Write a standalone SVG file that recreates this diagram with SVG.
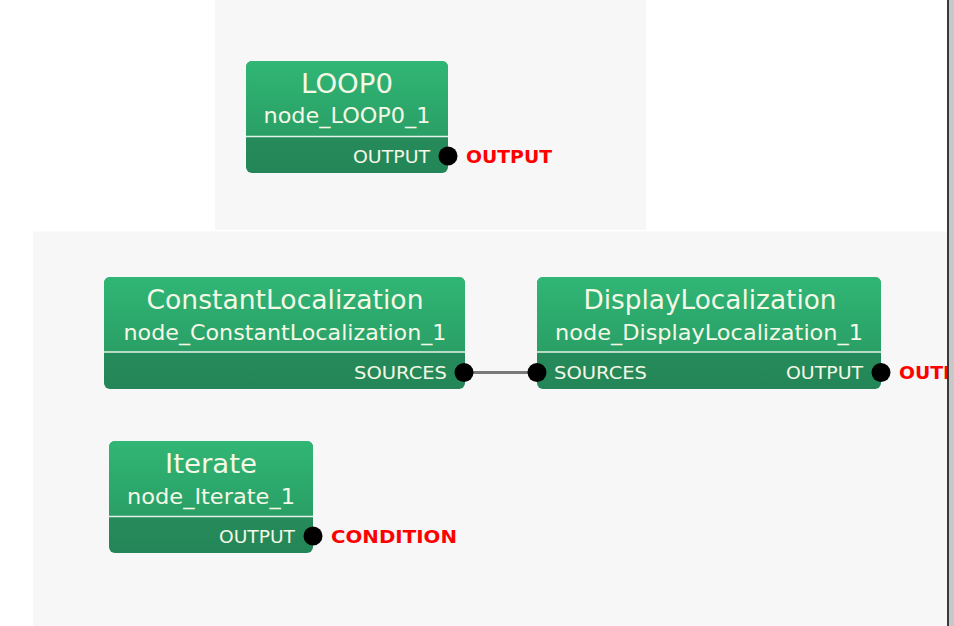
<svg xmlns="http://www.w3.org/2000/svg" width="954" height="626" viewBox="0 0 954 626">
<defs>
<linearGradient id="hdr" x1="0" y1="0" x2="0" y2="1">
<stop offset="0" stop-color="#30b675"/>
<stop offset="1" stop-color="#2a9f66"/>
</linearGradient>
<linearGradient id="ftr" x1="0" y1="0" x2="0" y2="1">
<stop offset="0" stop-color="#28945e"/>
<stop offset="1" stop-color="#248658"/>
</linearGradient>
</defs>
<style>
.panel{fill:#f7f7f7}
.title{font-family:"DejaVu Sans",Verdana,sans-serif;font-size:26px;fill:#f4f8e6;text-anchor:middle}
.sub{font-family:"DejaVu Sans",Verdana,sans-serif;font-size:21px;fill:#f4f8e6;text-anchor:middle}
.port{font-family:"DejaVu Sans",Verdana,sans-serif;font-size:18.5px;fill:#f4f8e6}
.lbl{font-family:"DejaVu Sans",Verdana,sans-serif;font-size:18.5px;font-weight:bold;fill:#ff0000}
.div{stroke:#e4f2ea;stroke-width:1.5}
.dot{fill:#000}
.edge{stroke:#7a7a7a;stroke-width:3;fill:none}
</style>
<rect x="0" y="0" width="954" height="626" fill="#ffffff"/>
<rect class="panel" x="215" y="0" width="431" height="230"/>
<rect class="panel" x="33" y="231.5" width="914" height="394.5"/>

<g id="connectors">
<line class="edge" x1="464" y1="372.5" x2="537" y2="372.5"/>
</g>

<g id="node_LOOP0_1">
<rect x="246" y="61" width="202" height="112" rx="6" fill="url(#ftr)"/>
<path d="M246,136 V67 a6,6 0 0 1 6,-6 H442 a6,6 0 0 1 6,6 V136 Z" fill="url(#hdr)"/>
<line class="div" x1="246" y1="136.5" x2="448" y2="136.5"/>
<text class="title" x="347" y="93" textLength="92" lengthAdjust="spacingAndGlyphs">LOOP0</text>
<text class="sub" x="347" y="123" textLength="167" lengthAdjust="spacingAndGlyphs">node_LOOP0_1</text>
<text class="port" x="430" y="163" text-anchor="end" textLength="77" lengthAdjust="spacingAndGlyphs">OUTPUT</text>
<circle class="dot" cx="448" cy="156" r="9.5"/>
<text class="lbl" x="466" y="163" textLength="86" lengthAdjust="spacingAndGlyphs">OUTPUT</text>
</g>

<g id="node_ConstantLocalization_1">
<rect x="104" y="277" width="361" height="112" rx="6" fill="url(#ftr)"/>
<path d="M104,352 V283 a6,6 0 0 1 6,-6 H459 a6,6 0 0 1 6,6 V352 Z" fill="url(#hdr)"/>
<line class="div" x1="104" y1="352" x2="465" y2="352"/>
<text class="title" x="285" y="309" textLength="277" lengthAdjust="spacingAndGlyphs">ConstantLocalization</text>
<text class="sub" x="285" y="340" textLength="323" lengthAdjust="spacingAndGlyphs">node_ConstantLocalization_1</text>
<text class="port" x="447" y="379" text-anchor="end" textLength="93" lengthAdjust="spacingAndGlyphs">SOURCES</text>
<circle class="dot" cx="464" cy="372.5" r="9.5"/>
</g>

<g id="node_DisplayLocalization_1">
<rect x="537" y="277" width="344" height="112" rx="6" fill="url(#ftr)"/>
<path d="M537,352 V283 a6,6 0 0 1 6,-6 H875 a6,6 0 0 1 6,6 V352 Z" fill="url(#hdr)"/>
<line class="div" x1="537" y1="352" x2="881" y2="352"/>
<text class="title" x="710" y="309" textLength="253" lengthAdjust="spacingAndGlyphs">DisplayLocalization</text>
<text class="sub" x="709" y="340" textLength="308" lengthAdjust="spacingAndGlyphs">node_DisplayLocalization_1</text>
<text class="port" x="554" y="379" textLength="93" lengthAdjust="spacingAndGlyphs">SOURCES</text>
<text class="port" x="863" y="379" text-anchor="end" textLength="77" lengthAdjust="spacingAndGlyphs">OUTPUT</text>
<circle class="dot" cx="537" cy="372.5" r="9.5"/>
<circle class="dot" cx="881" cy="372.5" r="9.5"/>
<text class="lbl" x="899" y="379" textLength="86" lengthAdjust="spacingAndGlyphs">OUTPUT</text>
</g>

<g id="node_Iterate_1">
<rect x="109" y="441" width="204" height="112" rx="6" fill="url(#ftr)"/>
<path d="M109,516 V447 a6,6 0 0 1 6,-6 H307 a6,6 0 0 1 6,6 V516 Z" fill="url(#hdr)"/>
<line class="div" x1="109" y1="516.5" x2="313" y2="516.5"/>
<text class="title" x="211" y="473" textLength="92" lengthAdjust="spacingAndGlyphs">Iterate</text>
<text class="sub" x="211" y="504" textLength="168" lengthAdjust="spacingAndGlyphs">node_Iterate_1</text>
<text class="port" x="295" y="543" text-anchor="end" textLength="76" lengthAdjust="spacingAndGlyphs">OUTPUT</text>
<circle class="dot" cx="313" cy="536" r="9.5"/>
<text class="lbl" x="331" y="543" textLength="126" lengthAdjust="spacingAndGlyphs">CONDITION</text>
</g>

<rect x="947" y="0" width="7" height="626" fill="#c8c8c8"/>
<rect x="947" y="0" width="2" height="626" fill="#3a3a3a"/>
</svg>
